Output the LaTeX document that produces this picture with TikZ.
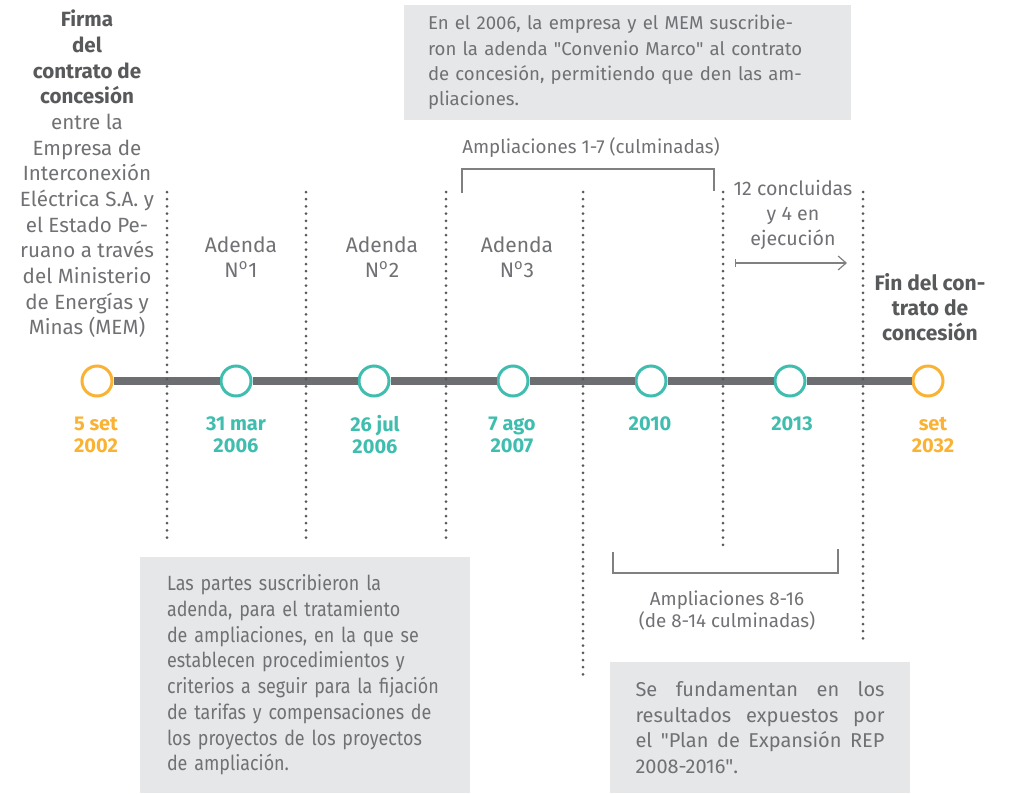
\documentclass[tikz,border=0pt]{standalone}
\usepackage{fontspec}
\setmainfont{Fira Sans}
\newfontfamily\narrowfont[FakeStretch=0.87]{Fira Sans}
\usetikzlibrary{arrows.meta}
\definecolor{txtgray}{HTML}{707174}
\definecolor{boldgray}{HTML}{58595B}
\definecolor{bargray}{HTML}{6D6E71}
\definecolor{boxgray}{HTML}{E6E7E8}
\definecolor{lineorange}{HTML}{F9B233}
\definecolor{lineteal}{HTML}{3FBDAE}
\newcommand\boldline[1]{\textcolor{boldgray}{\bfseries #1}}
\newcommand\numero{N\textsuperscript{o}}

\begin{document}
\begin{tikzpicture}[x=0.5pt,y=-0.5pt,
	point/.style={circle,fill=white,line width=1.5pt,minimum size=15pt,inner sep=0pt},
	bar/.style={line width=4pt,bargray},
	dots/.style={line width=1.5pt,line cap=round,dash pattern=on 0pt off 3.6pt,boldgray},
	brk/.style={line width=0.6pt,gray},
	date/.style={font=\bfseries\fontsize{10}{11}\selectfont,align=center,inner sep=0pt},
	adenda/.style={font=\fontsize{10.5}{12.75}\selectfont,align=center,txtgray,inner sep=0pt},
	small/.style={font=\fontsize{9.4}{11}\selectfont,align=center,txtgray,inner sep=0pt},
	note/.style={fill=boxgray,text=txtgray,align=left,inner ysep=0pt}]
	\useasboundingbox (0,0) rectangle (1018,793);

	% notes
	\node[note,font=\fontsize{9.3}{12.7}\selectfont,inner xsep=12pt,text width=199.5pt,minimum height=57.5pt] (convenio) at (627.5,62.5)
		{En el 2006, la empresa y el MEM suscribie-\\ron la adenda \textquotedbl Convenio Marco\textquotedbl{} al contrato\\de concesión, permitiendo que den las am-\\pliaciones.};
	\node[note,font=\narrowfont\fontsize{10.3}{12.85}\selectfont,inner xsep=13.5pt,text width=138pt,minimum height=118pt] (partes) at (305,675)
		{Las partes suscribieron la\\adenda, para el tratamiento\\de ampliaciones, en la que se\\establecen procedimientos y\\criterios a seguir para la fijación\\de tarifas y compensaciones de\\los proyectos de los proyectos\\de ampliación.};
	\node[note,align=justify,font=\fontsize{10}{12.85}\selectfont,inner xsep=12.75pt,text width=124.5pt,minimum height=65.5pt] (plan) at (760,727.5)
		{Se fundamentan en los\linebreak resultados expuestos por\linebreak el \textquotedbl Plan de Expansión REP\linebreak 2008-2016\textquotedbl.};

	% timeline
	\node[point,draw=lineorange] (p0) at (97,381) {};
	\node[point,draw=lineteal] (p1) at (236,381) {};
	\node[point,draw=lineteal] (p2) at (374,381) {};
	\node[point,draw=lineteal] (p3) at (513,381) {};
	\node[point,draw=lineteal] (p4) at (651,381) {};
	\node[point,draw=lineteal] (p5) at (790,381) {};
	\node[point,draw=lineorange] (p6) at (928,381) {};
	\draw[bar] (p0) -- (p1) -- (p2) -- (p3) -- (p4) -- (p5) -- (p6);

	\draw[dots] (167,192) -- (167,540);
	\draw[dots] (306,192) -- (306,540);
	\draw[dots] (446,192) -- (446,540);
	\draw[dots] (583,192) -- (583,681);
	\draw[dots] (723,192) -- (723,552);
	\draw[dots] (863,192) -- (863,643);

	\node[date,lineorange] (d0) at (96,435) {5 set\\2002};
	\node[date,lineteal] (d1) at (236,435) {31 mar\\2006};
	\node[date,lineteal] (d2) at (375,435) {26 jul\\2006};
	\node[date,lineteal] (d3) at (512,435) {7 ago\\2007};
	\node[date,lineteal] (d4) at (650,424) {2010};
	\node[date,lineteal] (d5) at (792,424) {2013};
	\node[date,lineorange] (d6) at (933,435) {set\\2032};

	% labels
	\node[adenda,font=\fontsize{10.3}{12.83}\selectfont] (firma) at (87,174) {\boldline{Firma}\\\boldline{del}\\\boldline{contrato de}\\\boldline{concesión}\\entre la\\Empresa de\\Interconexión\\Eléctrica S.A. y\\el Estado Pe-\\ruano a través\\del Ministerio\\de Energías y\\Minas (MEM)};
	\node[adenda] (ad1) at (241,257) {Adenda\\\numero1};
	\node[adenda] (ad2) at (382,257) {Adenda\\\numero2};
	\node[adenda] (ad3) at (517,257) {Adenda\\\numero3};
	\node[adenda,font=\bfseries\fontsize{10.5}{12.6}\selectfont,boldgray] (fin) at (930,307) {Fin del con-\\trato de\\concesión};
	\node[adenda,font=\fontsize{9.8}{12.6}\selectfont] (curso) at (793,215) {12 concluidas\\y 4 en\\ejecución};

	\node[small] (ampl1) at (591,148) {Ampliaciones 1-7 (culminadas)};
	\draw[brk] (462,193) -- (462,169) -- (714,169) -- (714,191);
	\node[small] (ampl2) at (727,611) {Ampliaciones 8-16\\(de 8-14 culminadas)};
	\draw[brk] (613,552) -- (613,573) -- (838,573) -- (838,549);

	\coordinate (runA) at (735,263);
	\coordinate (runB) at (847,263);
	\draw[brk,{Bar[width=4pt]}-{Straight Barb[length=4pt,width=7pt]}] (runA) -- (runB);
\end{tikzpicture}
\end{document}
